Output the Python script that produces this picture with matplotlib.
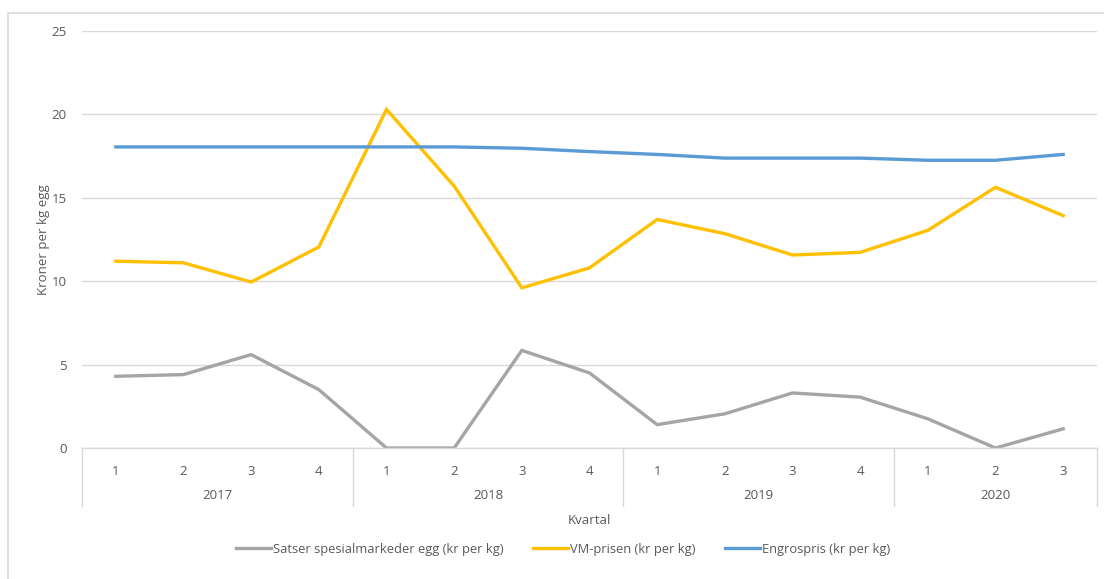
import matplotlib
matplotlib.use("Agg")
import matplotlib.pyplot as plt
from matplotlib.patches import Rectangle
from matplotlib.transforms import blended_transform_factory

quarters = ["1", "2", "3", "4", "1", "2", "3", "4", "1", "2", "3", "4", "1", "2", "3"]
years = ["2017", "2018", "2019", "2020"]
quarters_per_year = [4, 4, 4, 3]

satser = [4.3, 4.4, 5.6, 3.5, 0.0, 0.0, 5.85, 4.5, 1.4, 2.05, 3.3, 3.05, 1.75, 0.0, 1.15]
vm_prisen = [11.2, 11.1, 9.95, 12.05, 20.3, 15.7, 9.6, 10.8, 13.7, 12.85, 11.57, 11.73, 13.05, 15.63, 13.93]
engros = [18.05, 18.05, 18.05, 18.05, 18.05, 18.05, 17.97, 17.77, 17.6, 17.38, 17.38, 17.38, 17.25, 17.25, 17.6]

labels = ["Satser spesialmarkeder egg (kr per kg)", "VM-prisen (kr per kg)", "Engrospris (kr per kg)"]
colors = ["#A5A5A5", "#FFC000", "#5B9BD5"]

plt.rcParams['font.family'] = ['Open Sans', 'DejaVu Sans']
txt = "#595959"

fig = plt.figure(figsize=(11.04, 5.79), dpi=100)
fig.patches.append(Rectangle((8 / 1104, -0.1), 1.2, 1 - 13 / 579 + 0.1, transform=fig.transFigure,
                             fill=False, edgecolor="#D9D9D9", linewidth=1.2))

ax = fig.add_axes([82 / 1104, 1 - 448 / 579, (1097 - 82) / 1104, (448 - 31) / 579])
x = list(range(len(quarters)))
for series, lab, col in zip([satser, vm_prisen, engros], labels, colors):
    ax.plot(x, series, color=col, linewidth=2.4, label=lab, solid_joinstyle="miter")

ax.set_xlim(-0.5, len(quarters) - 0.5)
ax.set_ylim(0, 25)
ax.set_yticks([0, 5, 10, 15, 20, 25])
ax.grid(axis="y", color="#D9D9D9", linewidth=1)
ax.set_axisbelow(True)
for s in ["top", "right", "left"]:
    ax.spines[s].set_visible(False)
ax.spines["bottom"].set_color("#D9D9D9")
ax.spines["bottom"].set_linewidth(1)
ax.set_xticks(x)
ax.set_xticklabels(quarters)
ax.tick_params(axis="x", length=0, pad=12, labelsize=9.5, labelcolor=txt)
ax.tick_params(axis="y", length=0, pad=11, labelsize=9.5, labelcolor=txt)

ax.set_ylabel("Kroner per kg egg", fontsize=9.5, color=txt)
ax.yaxis.set_label_coords(-0.032, 0.5)

tr = blended_transform_factory(ax.transData, ax.transAxes)
start = -0.5
bounds = [start]
for yr, n in zip(years, quarters_per_year):
    end = start + n
    ax.text((start + end) / 2, -0.115, yr, transform=tr, ha="center", va="center",
            fontsize=9.5, color=txt)
    start = end
    bounds.append(end)
for b in bounds:
    ax.plot([b, b], [0, -0.14], transform=tr, color="#D9D9D9", linewidth=1, clip_on=False)

ax.text(0.5, -0.175, "Kvartal", transform=ax.transAxes, ha="center", va="center",
        fontsize=9.5, color=txt)

leg = fig.legend(loc="center", bbox_to_anchor=(563 / 1104, 1 - 549 / 579), ncol=3, frameon=False,
                 fontsize=9.3, handlelength=2.7, handletextpad=0.15, columnspacing=2.3)
for t in leg.get_texts():
    t.set_color(txt)

fig.savefig("out.png", dpi=100, facecolor="white")
